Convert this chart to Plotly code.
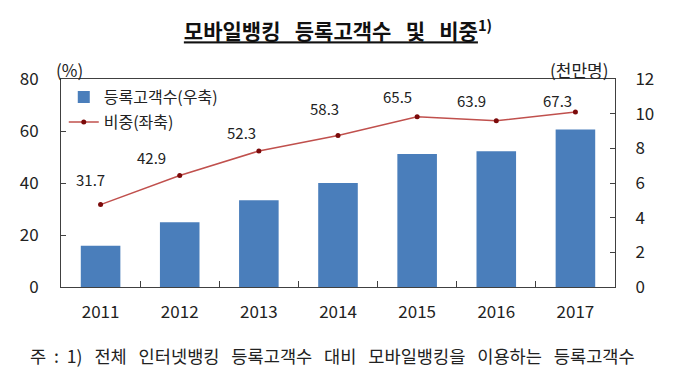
import plotly.graph_objects as go

years = ["2011", "2012", "2013", "2014", "2015", "2016", "2017"]
customers = [2.38, 3.73, 5.0, 6.0, 7.67, 7.83, 9.08]   # 천만명 (right axis)
share = [31.7, 42.9, 52.3, 58.3, 65.5, 63.9, 67.3]       # % (left axis)
share_labels = ["31.7", "42.9", "52.3", "58.3", "65.5", "63.9", "67.3"]
left_ticks = [0, 20, 40, 60, 80]
right_ticks = [0, 2, 4, 6, 8, 10, 12]

# label offsets (px) relative to each point
label_dx = [-10, -28, -17, -14, -20, -25, -18]
label_dy = [25, 18, 19, 27, 20, 20, 12]

FONT = "Noto Sans CJK KR"
BLUE = "#4A7EBB"
RED = "#C0504D"
AXIS = "#404040"
SP = "\u00a0"

# page has an 8px body margin; size the figure so plot area lands where the reference has it
OFF = 8
W, H = 700 - OFF, 369 - OFF
L, T = 57 - OFF, 79 - OFF
R, B = 700 - 615, 369 - 287

fig = go.Figure()
fig.add_trace(go.Bar(
    x=years, y=customers, name="등록고객수(우축)", yaxis="y2",
    marker=dict(color=BLUE, line=dict(width=0)), width=0.5,
    legend="legend", legendgroup="a",
))
fig.add_trace(go.Scatter(
    x=years, y=share, name="비중(좌축)", mode="lines+markers", yaxis="y",
    line=dict(color=RED, width=1.5),
    marker=dict(color="#7B0A0A", size=5),
    legend="legend2", legendgroup="b",
))

for i, (v, t, dx, dy) in enumerate(zip(share, share_labels, label_dx, label_dy)):
    fig.add_annotation(x=i, y=v, xref="x", yref="y", text=t, showarrow=False,
                       xshift=dx, yshift=dy, font=dict(family=FONT, size=15, color="#222"))

fig.add_annotation(x=(66 - 57) / 558, y=(287 - 70) / 208, xref="paper", yref="paper", text="(%)",
                   xanchor="center", yanchor="middle",
                   showarrow=False, font=dict(family=FONT, size=17, color="#222"))
fig.add_annotation(x=(579 - 57) / 558, y=(287 - 70) / 208, xref="paper", yref="paper", text="(천만명)",
                   xanchor="center", yanchor="middle",
                   showarrow=False, font=dict(family=FONT, size=17, color="#222"))
note_words = ["전체", "인터넷뱅킹", "등록고객수", "대비", "모바일뱅킹을", "이용하는", "등록고객수"]
note = "주" + SP * 2 + ":" + SP * 2 + "1)" + SP * 3 + (SP * 3).join(note_words)
fig.add_annotation(x=(24 - 57) / 558, y=(287 - 355) / 208, xref="paper", yref="paper",
                   xanchor="left", yanchor="middle", text=note,
                   showarrow=False, font=dict(family=FONT, size=17.6, color="#222"))

title_txt = (SP * 3).join(["모바일뱅킹", "등록고객수", "및", "비중"])
fig.update_layout(
    width=W, height=H,
    margin=dict(l=L, r=R, t=T, b=B),
    paper_bgcolor="white", plot_bgcolor="white",
    font=dict(family=FONT, size=15, color="#222"),
    title=dict(text="<b><u>" + title_txt + "</u><sup>1)</sup></b>",
               x=0.5, xref="paper", xanchor="center",
               y=1 - (32 - OFF) / H, yanchor="middle",
               font=dict(family=FONT, size=21, color="#111")),
    showlegend=True,
    xaxis=dict(
        type="category", range=[-0.5, 6.5],
        showline=True, linecolor=AXIS, linewidth=1, mirror=True,
        ticks="inside", ticklen=6, tickcolor=AXIS, tickson="boundaries",
        ticklabelstandoff=10, showgrid=False, zeroline=False,
        tickfont=dict(family=FONT, size=17, color="#222"),
    ),
    yaxis=dict(
        range=[0, 80], tickvals=left_ticks,
        showline=True, linecolor=AXIS, linewidth=1,
        ticks="inside", ticklen=5, tickcolor=AXIS,
        ticklabelstandoff=18, showgrid=False, zeroline=False,
        tickfont=dict(family=FONT, size=17, color="#222"),
    ),
    yaxis2=dict(
        range=[0, 12], tickvals=right_ticks, overlaying="y", side="right",
        showline=True, linecolor=AXIS, linewidth=1,
        ticks="inside", ticklen=5, tickcolor=AXIS,
        ticklabelstandoff=16, showgrid=False, zeroline=False,
        tickfont=dict(family=FONT, size=17, color="#222"),
    ),
    legend=dict(x=0.005, y=0.995, xanchor="left", yanchor="top",
                bgcolor="rgba(0,0,0,0)", font=dict(family=FONT, size=16, color="#222"),
                itemwidth=30),
    legend2=dict(x=0.005, y=0.875, xanchor="left", yanchor="top",
                 bgcolor="rgba(0,0,0,0)", font=dict(family=FONT, size=16, color="#222"),
                 itemwidth=30),
)

fig.write_html("out.html")
